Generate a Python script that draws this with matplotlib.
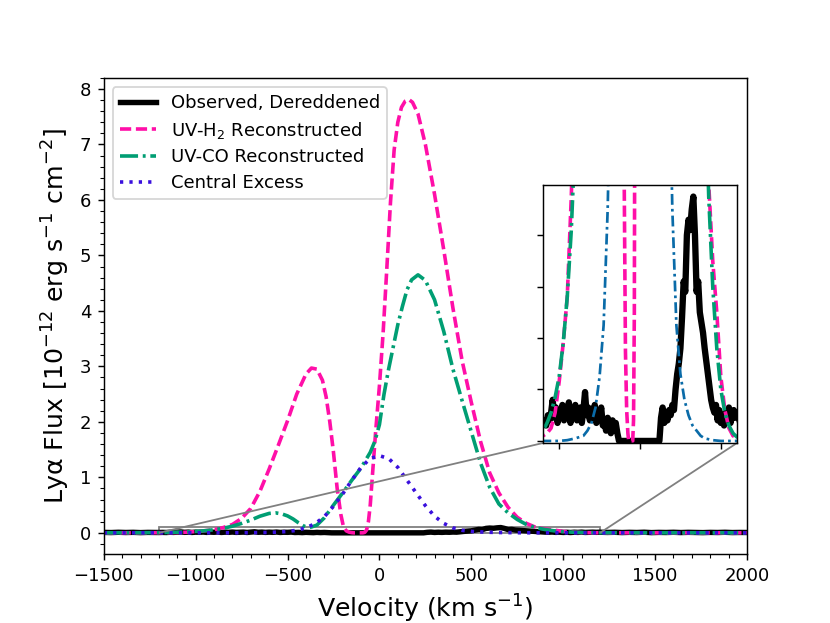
import numpy as np
import matplotlib
matplotlib.use("Agg")
import matplotlib.pyplot as plt
from matplotlib.ticker import MultipleLocator
from mpl_toolkits.axes_grid1.inset_locator import mark_inset

# ---------------- data ----------------
# UV-H2 reconstructed Lya profile
v_h2 = [-1500, -1400, -1300, -1200, -1150, -1100, -1050, -1000, -950, -900,
        -850, -800, -750, -700, -650, -600, -550, -500, -450, -400,
        -370, -340, -310, -290, -270, -250, -230, -210, -195, -180,
        -165, -150, -140, -90, -80, -70, -60, -50, -40, -30,
        -20, -10, 0, 20, 40, 60, 80, 100, 120, 140,
        160, 180, 210, 250, 300, 350, 400, 450, 500, 550,
        600, 650, 700, 750, 800, 850, 900, 950, 1000, 1050,
        1100, 1150, 1200, 1300, 1400, 1500, 1750, 2000]
f_h2 = [0.0, 0.0003, 0.001, 0.002, 0.003, 0.005, 0.011, 0.023, 0.038, 0.056,
        0.095, 0.15, 0.26, 0.44, 0.75, 1.15, 1.58, 2.02, 2.5, 2.86,
        2.97, 2.95, 2.75, 2.45, 2.0, 1.45, 0.8, 0.33, 0.1, 0.035,
        0.012, 0.003, 0.0, 0.0, 0.008, 0.05, 0.2, 0.5, 0.95, 1.4,
        1.85, 2.25, 2.65, 3.6, 4.75, 5.95, 6.9, 7.4, 7.67, 7.78,
        7.81, 7.76, 7.55, 7.0, 6.1, 5.1, 4.05, 3.1, 2.35, 1.65,
        1.08, 0.72, 0.46, 0.28, 0.17, 0.1, 0.07, 0.05, 0.025, 0.012,
        0.005, 0.002, 0.001, 0.0003, 0.0, 0.0, 0.0, 0.0]

# UV-CO reconstructed Lya profile
v_co = [-1500, -1400, -1300, -1200, -1150, -1100, -1050, -1000, -950, -900,
        -850, -800, -750, -700, -650, -600, -565, -530, -500, -470,
        -440, -410, -390, -370, -340, -300, -250, -200, -150, -100,
        -50, -25, 0, 25, 50, 75, 100, 125, 150, 175,
        210, 250, 300, 350, 400, 450, 500, 550, 600, 650,
        700, 750, 800, 850, 900, 950, 1000, 1050, 1100, 1150,
        1200, 1300, 1400, 1500, 1750, 2000]
f_co = [0.0, 0.0005, 0.0015, 0.004, 0.007, 0.011, 0.017, 0.025, 0.038, 0.056,
        0.082, 0.12, 0.17, 0.23, 0.30, 0.35, 0.36, 0.34, 0.305, 0.25,
        0.18, 0.12, 0.1, 0.105, 0.14, 0.27, 0.5, 0.72, 0.95, 1.17,
        1.45, 1.65, 1.95, 2.5, 2.95, 3.35, 3.75, 4.08, 4.38, 4.56,
        4.65, 4.55, 4.2, 3.63, 2.95, 2.38, 1.82, 1.26, 0.82, 0.52,
        0.36, 0.24, 0.15, 0.095, 0.06, 0.036, 0.02, 0.011, 0.006, 0.003,
        0.0015, 0.0004, 0.0, 0.0, 0.0, 0.0]

# Central excess
v_ce = [-1500, -1000, -900, -800, -750, -700, -650, -600, -550, -500,
        -450, -400, -350, -300, -250, -200, -150, -100, -50, 0,
        50, 100, 150, 200, 250, 300, 350, 400, 450, 500,
        550, 600, 650, 700, 750, 800, 900, 1000, 1500, 2000]
f_ce = [0.0, 0.0, 0.0003, 0.001, 0.0015, 0.002, 0.004, 0.007, 0.013, 0.025,
        0.045, 0.09, 0.165, 0.29, 0.48, 0.70, 0.95, 1.18, 1.34, 1.39,
        1.34, 1.18, 0.95, 0.72, 0.49, 0.30, 0.17, 0.09, 0.045, 0.026,
        0.016, 0.01, 0.006, 0.004, 0.002, 0.001, 0.0003, 0.0, 0.0, 0.0]

# Observed, dereddened spectrum
v_obs = ([-1500, -1460, -1420, -1380, -1340, -1300, -1260, -1220]
         + list(range(-1200, 1201, 20))
         + list(range(1240, 2001, 40)))
f_obs = ([0.008, 0.005, 0.010, 0.006, 0.009, 0.004, 0.008, 0.006]
         + [0.006, 0.008, 0.006, 0.010, 0.008, 0.011, 0.016, 0.009, 0.013, 0.007,
            0.012, 0.009, 0.014, 0.008, 0.013, 0.010, 0.015, 0.007, 0.012, 0.009,
            0.014, 0.008, 0.011, 0.013, 0.007, 0.012, 0.019, 0.010, 0.013, 0.008,
            0.012, 0.009, 0.014, 0.007, 0.011, 0.009, 0.013, 0.006, 0.008, 0.004,
            0.009, 0.006, 0.003, 0.008, 0.004, 0.007, 0.003,
            0.0, 0.0, 0.0, 0.0, 0.0, 0.0, 0.0, 0.0, 0.0, 0.0,
            0.0, 0.0, 0.0, 0.0, 0.0, 0.0, 0.0, 0.0, 0.0, 0.0,
            0.0, 0.0, 0.0, 0.0, 0.0, 0.0,
            0.009, 0.013, 0.007, 0.011, 0.008, 0.012, 0.010, 0.014, 0.012, 0.020,
            0.026, 0.030, 0.036, 0.048, 0.062, 0.058, 0.080, 0.086, 0.082, 0.090,
            0.095, 0.080, 0.058, 0.062, 0.050, 0.046, 0.042, 0.036, 0.031, 0.026,
            0.021, 0.016, 0.013, 0.011, 0.014, 0.008, 0.012, 0.007, 0.010, 0.006,
            0.011, 0.008, 0.013, 0.007, 0.010, 0.012, 0.009, 0.011]
         + [0.007, 0.010, 0.005, 0.009, 0.006, 0.011, 0.004, 0.008, 0.006, 0.010,
            0.005, 0.009, 0.007, 0.004, 0.008, 0.006, 0.010, 0.005, 0.007, 0.006])

labels = ["Observed, Dereddened", "UV-H$_2$ Reconstructed",
          "UV-CO Reconstructed", "Central Excess"]

# ---------------- styling ----------------
c_obs = "black"
c_h2 = "#FF0FA8"
c_co = "#009E73"
c_ce = "#3A10DD"
c_ce_in = "#0A6BA8"

fig = plt.figure(figsize=(830 / 130, 623 / 130), dpi=130)
ax = fig.add_axes([0.125, 0.11, 0.775, 0.765])

ax.plot(v_obs, f_obs, color=c_obs, lw=3, label=labels[0])
ax.plot(v_h2, f_h2, color=c_h2, lw=2, ls=(0, (3.1, 1.3)), label=labels[1])
ax.plot(v_co, f_co, color=c_co, lw=2, ls=(0, (5.0, 1.3, 0.8, 1.3)), label=labels[2])
ax.plot(v_ce, f_ce, color=c_ce, lw=2, ls=(0, (0.9, 1.7)), label=labels[3])

ax.set_xlim(-1500, 2000)
ax.set_ylim(-0.39, 8.2)
ax.xaxis.set_minor_locator(MultipleLocator(100))
ax.yaxis.set_minor_locator(MultipleLocator(0.2))
ax.tick_params(labelsize=10)
ax.set_xlabel("Velocity (km s$^{-1}$)", fontsize=14)
ax.set_ylabel("Lyα Flux [10$^{-12}$ erg s$^{-1}$ cm$^{-2}$]", fontsize=14)
ax.legend(loc="upper left", fontsize=10, labelspacing=0.42)

# ---------------- inset ----------------
axins = fig.add_axes([543 / 830, 1 - 443 / 623, 194 / 830, 258 / 623])
axins.plot(v_obs, f_obs, color=c_obs, lw=3.5)
axins.plot(v_h2, f_h2, color=c_h2, lw=2, ls=(0, (3.1, 1.3)))
axins.plot(v_co, f_co, color=c_co, lw=2, ls=(0, (5.0, 1.3, 0.8, 1.3)))
axins.plot(v_ce, f_ce, color=c_ce_in, lw=1.5, ls=(0, (4.0, 1.5, 1.0, 1.5)))
axins.set_xlim(-1200, 1200)
axins.set_ylim(-0.0008, 0.0995)
axins.set_xticks([-1000, 0, 1000])
axins.set_yticks([0.0, 0.02, 0.04, 0.06, 0.08])
axins.tick_params(labelleft=False, labelbottom=False)

mark_inset(ax, axins, loc1=3, loc2=4, fc="none", ec="0.5", lw=1.0)

fig.savefig("out.png", dpi=130)
